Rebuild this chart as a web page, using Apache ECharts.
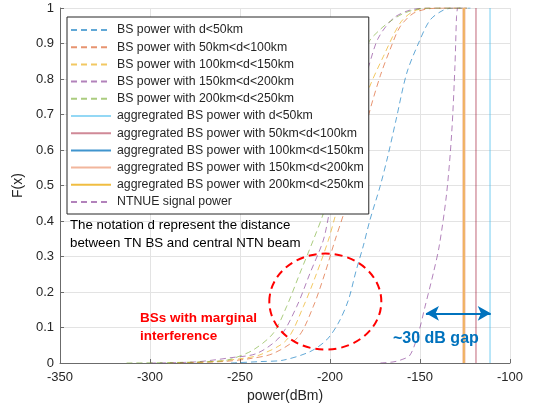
<!DOCTYPE html>
<html>
<head>
<meta charset="utf-8">
<title>CDF of interference power</title>
<script src="https://cdn.jsdelivr.net/npm/echarts@6/dist/echarts.min.js"></script>
<style>
  html, body { margin: 0; padding: 0; background: #fff; }
  #chart { width: 537px; height: 410px; }
</style>
</head>
<body>
<div id="chart"></div>
<script>
// Per-BS received power CDFs (power in dBm, F(x) values)
const powerD50 = [-255, -238.9, -226, -211.1, -201.9, -195.4, -189.8, -185.5, -181.5, -177.8, -172.2, -168, -163.3, -157.4, -150.9, -144.4, -137, -131, -122];
const cdfD50   = [0, 0.004, 0.008, 0.032, 0.065, 0.112, 0.177, 0.26, 0.33, 0.403, 0.497, 0.58, 0.685, 0.816, 0.9, 0.966, 0.994, 1, 1];

const powerD100 = [-285, -260, -245, -231.5, -217.6, -209.3, -202.8, -197.2, -191.7, -186, -182, -178.3, -172, -166.7, -161.1, -153.7, -145, -135, -124];
const cdfD100   = [0, 0.004, 0.012, 0.027, 0.074, 0.159, 0.253, 0.346, 0.431, 0.53, 0.62, 0.703, 0.81, 0.882, 0.947, 0.985, 0.998, 1, 1];

const powerD150 = [-290, -265, -250, -238.9, -224.1, -214.8, -207.4, -200.9, -197.2, -191, -185, -181, -178.3, -170.4, -161.1, -153.9, -145, -124];
const cdfD150   = [0, 0.004, 0.012, 0.023, 0.065, 0.159, 0.253, 0.346, 0.412, 0.52, 0.64, 0.72, 0.774, 0.863, 0.957, 0.99, 1, 1];

const powerD200 = [-300, -275, -255, -240.7, -227.8, -218.5, -211.1, -203.7, -200, -194, -188, -183, -178.3, -173.2, -164.8, -155.6, -145, -124];
const cdfD200   = [0, 0.003, 0.015, 0.027, 0.074, 0.159, 0.253, 0.346, 0.431, 0.54, 0.66, 0.76, 0.839, 0.915, 0.971, 0.994, 1, 1];

const powerD250 = [-313, -280, -260, -253.7, -242.6, -231.5, -224.1, -216.7, -209.3, -203.7, -198, -192, -186, -182, -178.3, -172, -166.7, -159, -150, -140, -124];
const cdfD250   = [0, 0.002, 0.006, 0.013, 0.037, 0.084, 0.159, 0.253, 0.346, 0.421, 0.52, 0.64, 0.76, 0.84, 0.905, 0.94, 0.962, 0.985, 0.998, 1, 1];

// NTN UE wanted signal power
const powerUE = [-172, -165, -161, -155.6, -150.9, -147.2, -142.6, -139.3, -135.2, -132.4, -130.6, -129.7, -129.2];
const cdfUE   = [0, 0.003, 0.008, 0.022, 0.084, 0.159, 0.253, 0.33, 0.478, 0.647, 0.835, 0.976, 1];

// Aggregated BS power per distance ring (single value, CDF is a step)
const aggD50 = -111.1;
const aggD100 = -118.9;
const aggD150 = -125.6;
const aggD200 = -125.6;
const aggD250 = -125.6;

// Axis ticks
const xTicks = [-350, -300, -250, -200, -150, -100];
const yTicks = [0, 0.1, 0.2, 0.3, 0.4, 0.5, 0.6, 0.7, 0.8, 0.9, 1];

// Gap arrow between NTN UE signal and aggregated interference
const gapFrom = [-146.7, 0.14];
const gapTo = [-110.7, 0.14];

const FONT = '"Liberation Sans", Arial, Helvetica, sans-serif';
const TXT = '#262626';

const zip = (xs, ys) => xs.map((x, i) => [x, ys[i]]);
const step = (x) => [[x, 0], [x, 1]];

function curve(name, data, color, extra) {
  return Object.assign({
    name: name,
    type: 'line',
    data: data,
    symbol: 'none',
    smooth: 0.3,
    silent: true,
    animation: false,
    lineStyle: { color: color, width: 1, type: [6, 4] },
    itemStyle: { color: color }
  }, extra || {});
}

const names = [
  'BS power with d<50km',
  'BS power with 50km<d<100km',
  'BS power with 100km<d<150km',
  'BS power with 150km<d<200km',
  'BS power with 200km<d<250km',
  'aggregrated BS power with d<50km',
  'aggregrated BS power with 50km<d<100km',
  'aggregrated BS power with 100km<d<150km',
  'aggregrated BS power with 150km<d<200km',
  'aggregrated BS power with 200km<d<250km',
  'NTNUE signal power'
];

const solid = (color, width) => ({ smooth: false, lineStyle: { color: color, width: width, type: 'solid' } });

const series = [
  curve(names[0], zip(powerD50, cdfD50), 'rgba(0,114,189,0.62)'),
  curve(names[1], zip(powerD100, cdfD100), 'rgba(217,83,25,0.62)'),
  curve(names[2], zip(powerD150, cdfD150), 'rgba(237,177,32,0.7)'),
  curve(names[3], zip(powerD200, cdfD200), 'rgba(126,47,142,0.6)'),
  curve(names[4], zip(powerD250, cdfD250), 'rgba(119,172,48,0.62)'),
  curve(names[5], step(aggD50), 'rgba(77,190,238,0.6)', solid('rgba(77,190,238,0.6)', 1.3)),
  curve(names[6], step(aggD100), 'rgba(162,20,47,0.5)', solid('rgba(162,20,47,0.5)', 1.3)),
  curve(names[7], step(aggD150), 'rgba(0,114,189,0.75)', solid('rgba(0,114,189,0.75)', 1)),
  curve(names[8], step(aggD200), '#F2B69C', solid('#F2B69C', 3)),
  curve(names[9], step(aggD250), 'rgba(237,177,32,0.85)', solid('rgba(237,177,32,0.85)', 1)),
  curve(names[10], zip(powerUE, cdfUE), 'rgba(126,47,142,0.6)', {
    markLine: {
      silent: true,
      symbol: ['arrow', 'arrow'],
      symbolSize: [11, 13],
      label: { show: false },
      lineStyle: { color: '#0072BD', width: 2.2, type: 'solid' },
      data: [[{ coord: gapFrom }, { coord: gapTo }]]
    }
  })
];

const chart = echarts.init(document.getElementById('chart'), null, { renderer: 'canvas' });

chart.setOption({
  animation: false,
  backgroundColor: '#fff',
  grid: { left: 60, right: 27, top: 8, bottom: 47, containLabel: false },
  xAxis: {
    type: 'value',
    min: xTicks[0],
    max: xTicks[xTicks.length - 1],
    interval: 50,
    name: 'power(dBm)',
    nameLocation: 'middle',
    nameGap: 20,
    nameTextStyle: { fontFamily: FONT, fontSize: 14, color: TXT },
    axisLine: { show: true, onZero: false, lineStyle: { color: '#6b6b6b', width: 1 } },
    axisTick: { show: true, inside: true, length: 4, lineStyle: { color: '#6b6b6b' } },
    axisLabel: { fontFamily: FONT, fontSize: 13, color: TXT, margin: 8,
      formatter: (v) => xTicks.includes(v) ? String(v) : '' },
    splitLine: { show: true, lineStyle: { color: '#e3e3e3', width: 1 } }
  },
  yAxis: {
    type: 'value',
    min: yTicks[0],
    max: yTicks[yTicks.length - 1],
    interval: 0.1,
    name: 'F(x)',
    nameLocation: 'middle',
    nameGap: 28,
    nameTextStyle: { fontFamily: FONT, fontSize: 14, color: TXT },
    axisLine: { show: true, lineStyle: { color: '#6b6b6b', width: 1 } },
    axisTick: { show: true, inside: true, length: 4, lineStyle: { color: '#6b6b6b' } },
    axisLabel: { fontFamily: FONT, fontSize: 13, color: TXT, margin: 6,
      formatter: (v) => String(Math.round(v * 10) / 10) },
    splitLine: { show: true, lineStyle: { color: '#e3e3e3', width: 1 } }
  },
  legend: {
    data: names,
    orient: 'vertical',
    left: 67,
    top: 17,
    itemWidth: 40,
    itemHeight: 14,
    itemGap: 5.2,
    padding: [7, 5, 6, 3],
    backgroundColor: '#fff',
    borderColor: '#262626',
    borderWidth: 1,
    borderRadius: 0,
    selectedMode: false,
    itemStyle: { opacity: 0 },
    textStyle: { fontFamily: FONT, fontSize: 12.3, color: TXT, height: 14, padding: [0, 0, 0, 1] }
  },
  series: series
});

// Annotations placed on the plot
const ring = chart.convertToPixel({ gridIndex: 0 }, [-202.6, 0.173]);
chart.setOption({
  graphic: [
    {
      type: 'ellipse',
      silent: true,
      z: 10,
      shape: { cx: ring[0], cy: ring[1], rx: 56, ry: 48 },
      style: { fill: 'none', stroke: '#FF0000', lineWidth: 2, lineDash: [8, 5] }
    },
    {
      type: 'text',
      silent: true,
      z: 10,
      left: 70,
      top: 216,
      style: {
        text: 'The notation d represent the distance\nbetween TN BS and central NTN beam',
        font: '13.3px ' + FONT,
        fill: '#000',
        lineHeight: 18
      }
    },
    {
      type: 'text',
      silent: true,
      z: 10,
      left: 140,
      top: 309,
      style: {
        text: 'BSs with marginal\ninterference',
        font: 'bold 13.5px ' + FONT,
        fill: '#FF0000',
        lineHeight: 18
      }
    },
    {
      type: 'text',
      silent: true,
      z: 10,
      left: 393,
      top: 331,
      style: {
        text: '~30 dB gap',
        font: 'bold 16px ' + FONT,
        fill: '#0072BD'
      }
    }
  ]
});
</script>
</body>
</html>
